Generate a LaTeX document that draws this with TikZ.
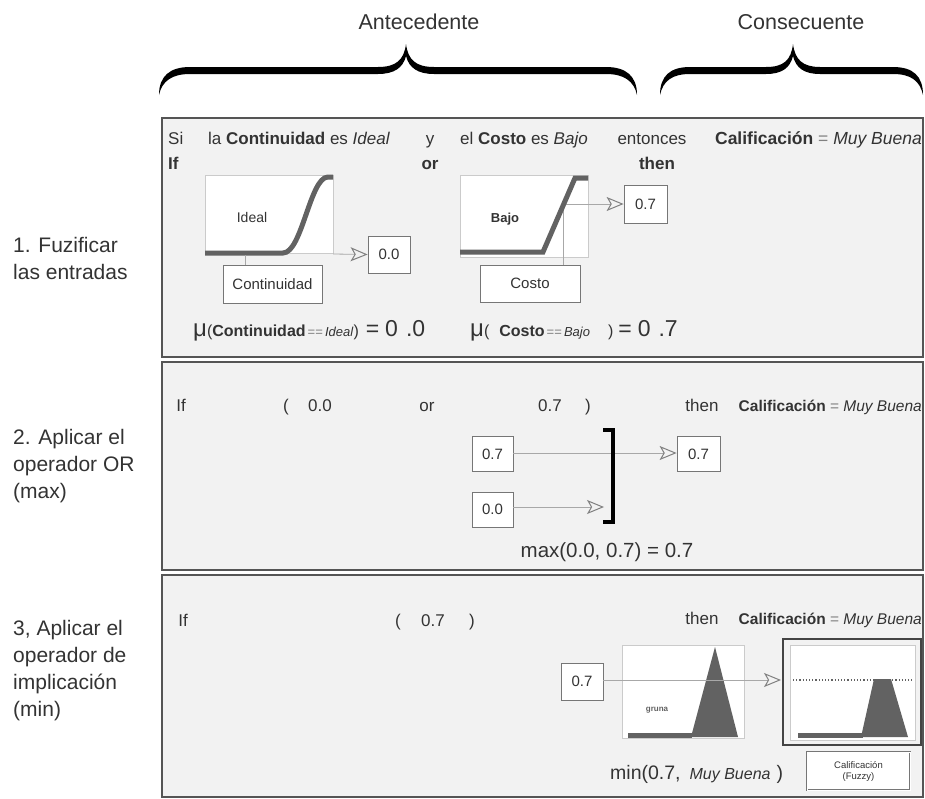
\documentclass[tikz,border=0pt]{standalone}
\usepackage{fontspec}
\setmainfont{Liberation Sans}
\usetikzlibrary{arrows.meta}
\definecolor{panelbg}{HTML}{F2F2F2}
\definecolor{panelborder}{HTML}{555555}
\definecolor{txt}{HTML}{333333}
\definecolor{mfcol}{HTML}{626262}
\definecolor{thincol}{HTML}{A8A8A8}
\definecolor{arrcol}{HTML}{808080}
\newcommand{\myfs}[2]{\fontsize{#1}{#2}\selectfont}
\tikzset{
  panel/.style={draw=panelborder, line width=1.8pt, fill=panelbg},
  lbl/.style={anchor=base west, text=txt, inner sep=0pt, font=\myfs{17}{20}},
  clbl/.style={lbl, anchor=base},
  elbl/.style={lbl, anchor=base east},
  side/.style={anchor=north west, text=txt, inner sep=0pt, align=left, font=\myfs{21}{27}},
  valbox/.style={draw=thincol!70!black, fill=white, line width=0.8pt, inner sep=0pt, text=txt, font=\myfs{15}{18}},
  plotbox/.style={draw=thincol!60, fill=white, line width=0.6pt},
  mfline/.style={draw=mfcol, line width=5pt},
  thinline/.style={draw=thincol, line width=0.8pt},
  arr/.style={thinline, -{Stealth[open, length=17pt, width=14pt, inset=4pt, color=arrcol, line width=1pt]}},
}
\begin{document}
\begin{tikzpicture}[x=1pt,y=-1pt]
\useasboundingbox (0,0) rectangle (925,798);
\fill[white] (0,0) rectangle (925,798);

% ---------------- top braces and headings
\node[clbl, font=\myfs{21.5}{24}] (ant) at (419,29) {Antecedente};
\node[clbl, font=\myfs{21.5}{24}] (con) at (801,29) {Consecuente};
\fill[black] (159,95) .. controls (159,76) and (170,67) .. (190,67) -- (378,67)
  .. controls (396,67) and (404,60) .. (406,44)
  .. controls (408,60) and (416,67) .. (434,67) -- (606,67)
  .. controls (626,67) and (637,76) .. (637,95)
  .. controls (634,81) and (624,74) .. (606,74) -- (434,74)
  .. controls (418,74) and (409,68) .. (406,56)
  .. controls (403,68) and (394,74) .. (378,74) -- (190,74)
  .. controls (172,74) and (162,81) .. (159,95) -- cycle;
\fill[black] (660,95) .. controls (660,76) and (670,67) .. (690,67) -- (766,67)
  .. controls (784,67) and (791,60) .. (793,44)
  .. controls (795,60) and (803,67) .. (820,67) -- (893,67)
  .. controls (913,67) and (923,76) .. (923,95)
  .. controls (920,81) and (911,74) .. (893,74) -- (820,74)
  .. controls (804,74) and (796,68) .. (793,56)
  .. controls (790,68) and (782,74) .. (766,74) -- (690,74)
  .. controls (672,74) and (663,81) .. (660,95) -- cycle;

% ---------------- side labels
\node[side] (s1) at (13,237) {1. Fuzificar\\las entradas};
\node[side] (s2) at (13,429) {2. Aplicar el\\operador OR\\(max)};
\node[side] (s3) at (13,620) {3, Aplicar el\\operador de\\implicación\\(min)};

% ---------------- panels
\draw[panel] (162,118) rectangle (923,357);
\draw[panel] (162,362) rectangle (923,570);
\draw[panel] (162,575) rectangle (923,797);

% ================= panel 1
\node[lbl] (si) at (168,144) {Si};
\node[lbl] (r1a) at (208,144) {la \textbf{Continuidad} es \textit{Ideal}};
\node[clbl] (yy) at (430,144) {y};
\node[lbl] (r1b) at (460,144) {el \textbf{Costo} es \textit{Bajo}};
\node[clbl] (ent) at (652,144) {entonces};
\node[elbl, font=\myfs{17.5}{20}] (c1) at (922,144) {\textbf{Calificación} {\color{gray}=} \textit{Muy Buena}};
\node[lbl] (if1) at (168,169) {\textbf{If}};
\node[clbl] (or1) at (430,169) {\textbf{or}};
\node[clbl] (then1) at (657,169) {\textbf{then}};

% Continuidad plot
\draw[plotbox] (205,175) rectangle (333,253);
\node[clbl, font=\myfs{14}{16}] (ideal) at (252,222) {Ideal};
\coordinate (cA) at (333,254);
\node[valbox, minimum width=42pt, minimum height=37pt] (v00) at (389,254.5) {0.0};
\draw[arr] (cA) -- (v00.west);
\draw[mfline] (205,253) -- (283,253) .. controls (302,253) and (310,177) .. (328,177) -- (333,177);
\node[valbox, minimum width=99pt, minimum height=38pt] (boxC) at (272.5,284) {Continuidad};
\coordinate (cB) at (245,255);
\draw[thinline] (cB) -- (cB |- boxC.north);

% Costo plot
\draw[plotbox] (460,175) rectangle (588,257);
\node[clbl, font=\bfseries\myfs{13}{16}] (bajo) at (505,222) {Bajo};
\coordinate (cC) at (563,204);
\node[valbox, minimum width=43pt, minimum height=38pt] (v07) at (645.5,204) {0.7};
\node[valbox, minimum width=100pt, minimum height=37pt] (boxK) at (530,283.5) {Costo};
\draw[thinline] (cC) -- (cC |- boxK.north);
\draw[arr] (cC) -- (v07.west);
\draw[mfline] (460,252) -- (543,252) -- (575,178) -- (588,178);

% mu formulas
\node[lbl] (mu1) at (193,336) {{\myfs{24}{24}μ}{\myfs{16}{18}(\textbf{Continuidad}}\hspace{2pt}{\myfs{13}{14}{\color{gray}==}\,\textit{Ideal}}{\myfs{16}{18})}\hspace{7pt}{\myfs{23}{24}=\hspace{6pt}0\hspace{8pt}.0}};
\node[lbl] (mu2) at (470,336) {{\myfs{24}{24}μ}{\myfs{16}{18}(\hspace{10pt}\textbf{Costo}}\hspace{2pt}{\myfs{13}{14}{\color{gray}==}\,\textit{Bajo}}{\myfs{16}{18}\hspace{18pt})}\hspace{5pt}{\myfs{23}{24}=\hspace{6pt}0\hspace{8pt}.7}};

% ================= panel 2
\node[clbl] (if2) at (181,411) {If};
\node[clbl] (p2a) at (286,411) {(};
\node[clbl] (p2b) at (320,411) {0.0};
\node[clbl] (p2c) at (427,411) {or};
\node[clbl] (p2d) at (550,411) {0.7};
\node[clbl] (p2e) at (588,411) {)};
\node[clbl] (then2) at (702,411) {then};
\node[elbl, font=\myfs{15.5}{18}] (c2) at (922,411) {\textbf{Calificación} {\color{gray}=} \textit{Muy Buena}};

\node[valbox, minimum width=41pt, minimum height=35pt] (in07) at (492.5,454) {0.7};
\node[valbox, minimum width=41pt, minimum height=35pt] (in00) at (492.5,509.5) {0.0};
\node[valbox, minimum width=43pt, minimum height=35pt] (out07) at (698.5,454) {0.7};
\coordinate (brA) at (611,453);
\coordinate (brB) at (615,453);
\coordinate (brC) at (604,507);
\draw[thinline] (in07.east |- brA) -- (brA);
\draw[arr] (brB) -- (out07.west |- brB);
\draw[arr] (in00.east |- brC) -- (brC);
\draw[black, line width=4pt] (603,430) -- (613,430) -- (613,522) -- (603,522);
\node[clbl, font=\myfs{20.5}{22}] (maxt) at (607,557) {max(0.0, 0.7) = 0.7};

% ================= panel 3
\node[clbl] (if3) at (183,626) {If};
\node[clbl] (p3a) at (398,626) {(};
\node[clbl] (p3b) at (433,626) {0.7};
\node[clbl] (p3c) at (472,626) {)};
\node[clbl] (then3) at (702,624) {then};
\node[elbl, font=\myfs{15.5}{18}] (c3) at (922,624) {\textbf{Calificación} {\color{gray}=} \textit{Muy Buena}};

\draw[plotbox] (622,645) rectangle (744,738);
\node[clbl, font=\bfseries\myfs{8}{10}, text=mfcol] (gl) at (657,711) {gruna};
\draw[mfline] (628,735) -- (692,735);
\fill[mfcol] (691,737) -- (715,647) -- (738,737) -- cycle;

\draw[panelborder!80!black, line width=2.5pt] (783,639) rectangle (921,745);
\draw[plotbox] (790,645) rectangle (915,740);
\draw[dotted, line width=1.2pt, mfcol] (793,680) -- (912,680);
\draw[mfline] (798,735) -- (863,735);
\fill[mfcol] (861,737) -- (874,679) -- (891,679) -- (908,737) -- cycle;

\node[valbox, minimum width=42pt, minimum height=37pt] (in3) at (582,681.5) {0.7};
\coordinate (outL) at (781,680);
\draw[arr] (in3.east |- outL) -- (outL);

\node[lbl, font=\myfs{19.5}{22}] (mint) at (610,779) {min(0.7,\hspace{9pt}{\myfs{16}{16}\textit{Muy Buena}}\hspace{6pt})};
\node[valbox, double=white, double distance=1pt, minimum width=103pt, minimum height=38pt, align=center, font=\myfs{9.5}{11}] (calf) at (858.5,771) {Calificación\\(Fuzzy)};
\end{tikzpicture}
\end{document}
